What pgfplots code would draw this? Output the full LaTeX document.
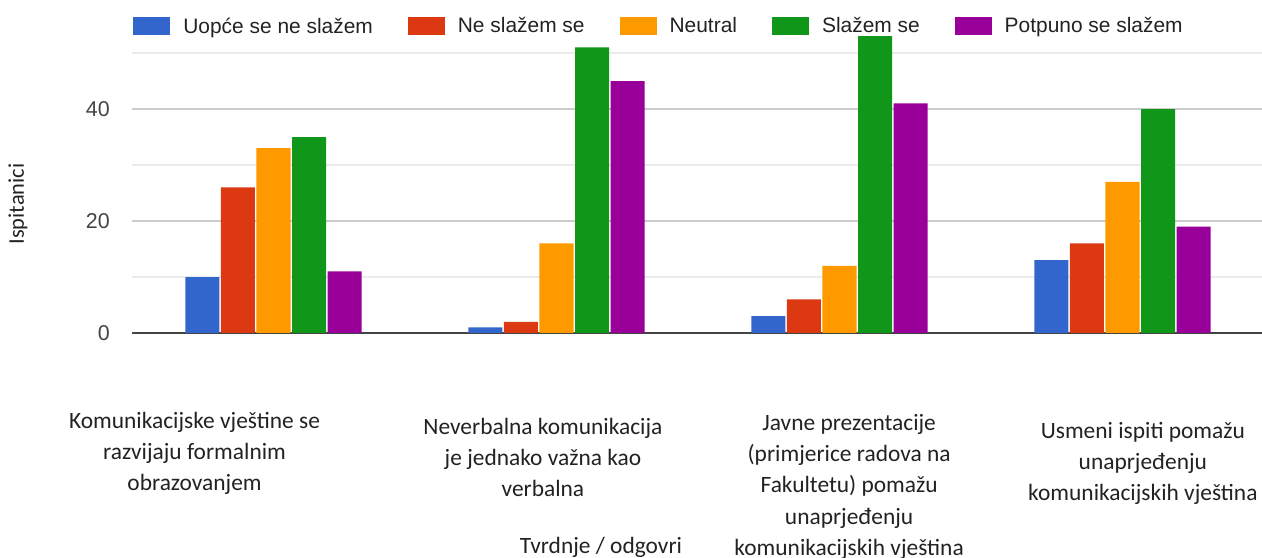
\documentclass[border=0pt]{standalone}
\usepackage{pgfplots}
\pgfplotsset{compat=1.18}
\usepackage{fontspec}
\setmainfont{Liberation Sans}
\newfontfamily\carlito{Carlito}
\definecolor{cBlue}{HTML}{3366CC}
\definecolor{cRed}{HTML}{DC3912}
\definecolor{cOrange}{HTML}{FF9900}
\definecolor{cGreen}{HTML}{109618}
\definecolor{cPurple}{HTML}{990099}
\definecolor{tickgray}{HTML}{444444}
\definecolor{txt}{HTML}{222222}
\definecolor{majgrid}{HTML}{CCCCCC}
\definecolor{mingrid}{HTML}{EBEBEB}
\definecolor{basecol}{HTML}{444444}
\begin{document}
\begin{tikzpicture}
\useasboundingbox (0bp,0bp) rectangle (1262bp,558bp);
\begin{axis}[
  at={(132bp,225bp)}, anchor=south west,
  width=1132bp, height=296.8bp, scale only axis,
  xmin=-0.5, xmax=3.5, ymin=0, ymax=53,
  ybar=1.5bp, bar width=34bp,
  axis x line*=bottom, axis y line*=left,
  x axis line style={draw=basecol, line width=1.6bp, -},
  y axis line style={draw=none},
  major tick length=0pt, minor tick length=0pt,
  ytick={0,20,40}, minor ytick={10,30,50},
  ymajorgrids, yminorgrids,
  major grid style={draw=majgrid, line width=1.3bp},
  minor grid style={draw=mingrid, line width=1.3bp},
  /pgf/number format/assume math mode=true,
  yticklabel style={font=\fontsize{21.5}{25}\selectfont, text=tickgray, anchor=east, inner sep=0pt, xshift=-22bp},
  xtick={-0.279,0.952,2.034,3.072},
  xticklabels={
    {\rule{0pt}{20bp}Komunikacijske vještine se\\razvijaju formalnim\\obrazovanjem},
    {\rule{0pt}{26bp}Neverbalna komunikacija\\je jednako važna kao\\verbalna},
    {\rule{0pt}{22bp}Javne prezentacije\\(primjerice radova na\\Fakultetu) pomažu\\unaprjeđenju\\komunikacijskih vještina},
    {\rule{0pt}{30bp}Usmeni ispiti pomažu\\unaprjeđenju\\komunikacijskih vještina}},
  xticklabel style={font=\carlito\fontsize{23.5}{31.5}\selectfont, text=txt, align=center, anchor=north, inner sep=0pt, yshift=-75bp},
  ylabel={Ispitanici},
  ylabel style={at={(axis description cs:-0.1007,0.4346)}, anchor=center, font=\carlito\fontsize{22.5}{27}\selectfont, text=txt},
  xlabel={Tvrdnje / odgovri},
  xlabel style={at={(axis description cs:0.4143,-0.7446)}, anchor=base, font=\carlito\fontsize{23.5}{28}\selectfont, text=txt},
  legend columns=5,
  legend image code/.code={\fill[#1] (0bp,-9bp) rectangle (37bp,9bp);},
  legend style={at={(axis description cs:0.001,1.034)}, anchor=west, draw=none, fill=none, inner sep=0pt,
    font=\fontsize{21}{25}\selectfont, text=txt,
    nodes={inner sep=0pt},
    column sep=13bp,
    /tikz/every even column/.append style={column sep=35bp}},
]
\addplot[fill=cBlue, draw=none] coordinates {(0,10) (1,1) (2,3) (3,13)};
\addplot[fill=cRed, draw=none] coordinates {(0,26) (1,2) (2,6) (3,16)};
\addplot[fill=cOrange, draw=none] coordinates {(0,33) (1,16) (2,12) (3,27)};
\addplot[fill=cGreen, draw=none] coordinates {(0,35) (1,51) (2,53) (3,40)};
\addplot[fill=cPurple, draw=none] coordinates {(0,11) (1,45) (2,41) (3,19)};
\legend{Uopće se ne slažem, Ne slažem se, Neutral, Slažem se, Potpuno se slažem}
\end{axis}
\end{tikzpicture}
\end{document}
